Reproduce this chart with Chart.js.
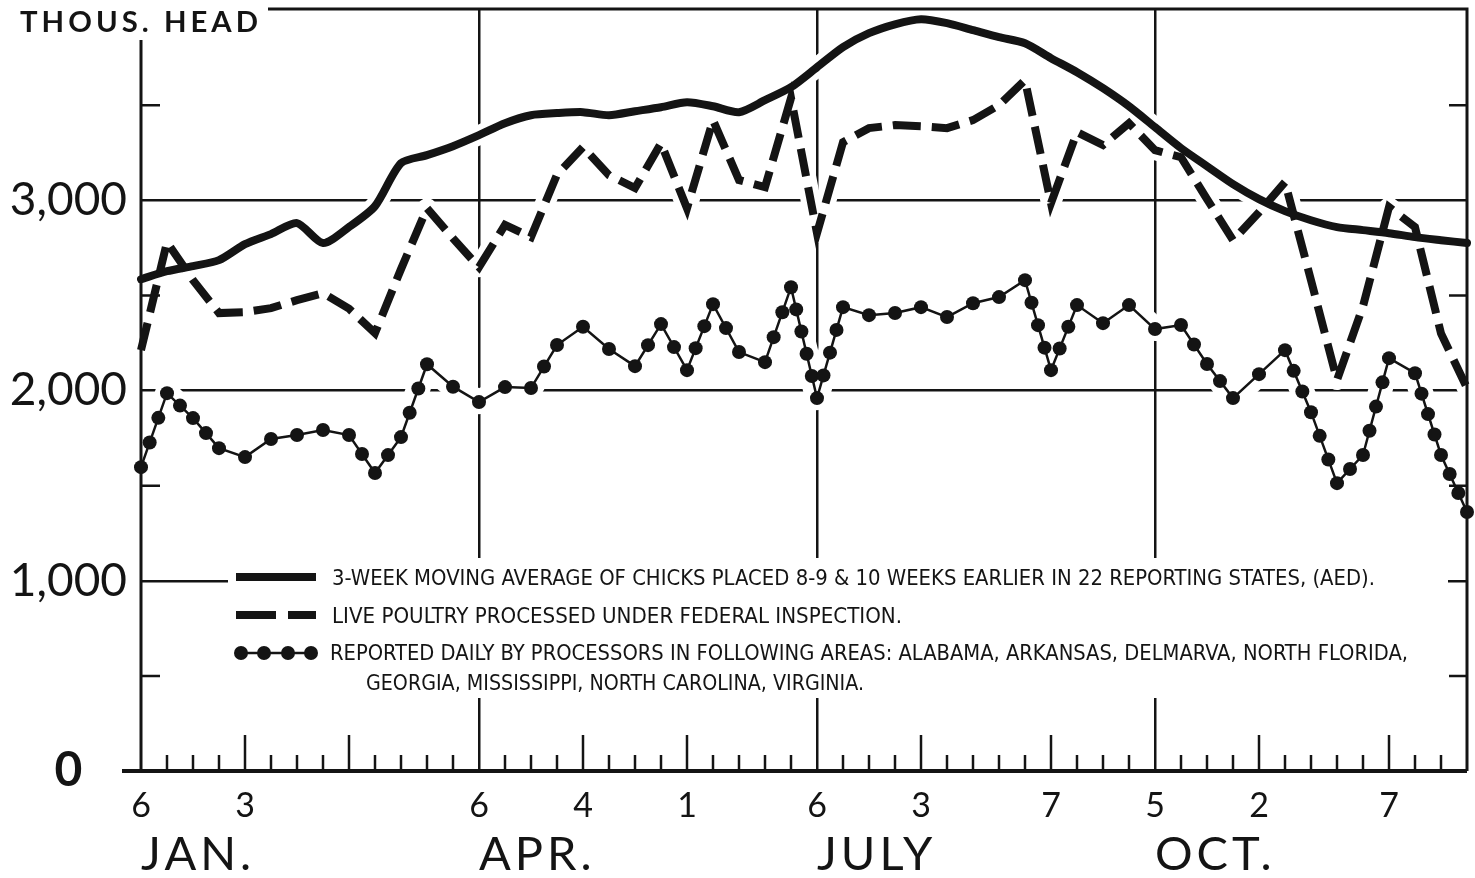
<!DOCTYPE html>
<html><head><meta charset="utf-8">
<script src="https://cdn.jsdelivr.net/npm/chart.js@4/dist/chart.umd.min.js"></script>
<style>html,body{margin:0;padding:0;background:#fff;}canvas{display:block;}</style>
</head><body>
<canvas id="c" width="1475" height="878"></canvas>
<script>
// ---------- DATA ----------
const weekDates = ['JAN 6','JAN 13','JAN 20','JAN 27','FEB 3','FEB 10','FEB 17','FEB 24',
  'MAR 2','MAR 9','MAR 16','MAR 23','MAR 30','APR 6','APR 13','APR 20','APR 27',
  'MAY 4','MAY 11','MAY 18','MAY 25','JUN 1','JUN 8','JUN 15','JUN 22','JUN 29',
  'JUL 6','JUL 13','JUL 20','JUL 27','AUG 3','AUG 10','AUG 17','AUG 24','AUG 31',
  'SEP 7','SEP 14','SEP 21','SEP 28','OCT 5','OCT 12','OCT 19','OCT 26',
  'NOV 2','NOV 9','NOV 16','NOV 23','NOV 30','DEC 7','DEC 14','DEC 21','DEC 28'];
const dayLabelWeeks = [0,4,13,17,21,26,30,35,39,43,48];
const monthStartWeeks = [4,8,17,21,30,35,43,48];
const quarterWeeks = [13,26,39];
const monthLabelWeeks = [0,13,26,39];
const monthNames = ['JAN.','APR.','JULY','OCT.'];

const chicksAvg = [2585,2627,2654,2685,2769,2822,2880,2775,2859,2969,
  3195,3237,3284,3342,3405,3447,3458,3463,3447,3468,
  3489,3515,3494,3463,3526,3594,3699,3805,3878,3925,
  3952,3931,3894,3857,3825,3747,3673,3589,3494,3384,
  3274,3179,3085,3006,2943,2895,2859,2843,2827,2806,2790,2775];
const liveProcessed = [2212,2780,2580,2407,2412,2433,2475,2512,2430,2302,
  2638,2958,2800,2648,2870,2806,3135,3279,3132,3064,
  3300,2958,3421,3106,3069,3537,2827,3305,3379,3395,
  3389,3379,3421,3500,3631,2985,3358,3290,3405,3263,
  3226,3006,2790,2937,3095,2580,2055,2443,2964,2859,2300,2013];
const reportedDaily = [1597,1986,1855,1697,1650,1745,1766,1792,1766,1566,
  1755,2138,2020,1939,2018,2013,2239,2335,2218,2128,
  2349,2107,2454,2202,2149,2543,1960,2438,2396,2407,
  2438,2386,2459,2491,2580,2107,2449,2354,2449,2323,
  2344,2139,1960,2086,2212,1886,1513,1661,2170,2091,1661,1361];

const yLabelValues = [0,1000,2000,3000];
const yGridValues = [1000,2000,3000];
const yMinorValues = [500,1500,2500,3500];
const titleText = 'THOUS. HEAD';
const legendTexts = [
  '3-WEEK MOVING AVERAGE OF CHICKS PLACED 8-9 & 10 WEEKS EARLIER IN 22 REPORTING STATES, (AED).',
  'LIVE POULTRY PROCESSED UNDER FEDERAL INSPECTION.',
  'REPORTED DAILY BY PROCESSORS IN FOLLOWING AREAS: ALABAMA, ARKANSAS, DELMARVA, NORTH FLORIDA,',
  'GEORGIA, MISSISSIPPI, NORTH CAROLINA, VIRGINIA.'
];

// ---------- STYLE ----------
const INK = '#141414';
const LABEL_FONT = 'Lato, "DejaVu Sans", sans-serif';
const NARROW_FONT = '"Liberation Sans Narrow", "DejaVu Sans Condensed", "Roboto Condensed", sans-serif';
const BEAD_R = 7, BEAD_STEP = 24;

function tracePath(ctx, pts, curved) {
  ctx.beginPath();
  pts.forEach((p, i) => {
    if (i === 0) { ctx.moveTo(p.x, p.y); return; }
    const q = pts[i - 1];
    if (curved) ctx.bezierCurveTo(q.cp2x, q.cp2y, p.cp1x, p.cp1y, p.x, p.y);
    else ctx.lineTo(p.x, p.y);
  });
}
function bead(ctx, x, y, r) { ctx.beginPath(); ctx.arc(x, y, r, 0, Math.PI * 2); ctx.fill(); }
function fitText(ctx, text, x, yBase, width, font) {
  ctx.font = font;
  const w = ctx.measureText(text).width;
  ctx.save(); ctx.translate(x, yBase); ctx.scale(width / w, 1);
  ctx.textAlign = 'left'; ctx.textBaseline = 'alphabetic';
  ctx.fillText(text, 0, 0); ctx.restore();
}
function noPad(s) { s.paddingTop = 0; s.paddingBottom = 0; s.paddingLeft = 0; s.paddingRight = 0; }

const spacingPlugin = {
  id: 'spacing',
  afterLayout(chart) {
    const s = chart.scales.x2;
    if (s && !s._spaced) {
      const orig = s.drawLabels.bind(s);
      s.drawLabels = function (area) { const c = this.ctx; c.save(); c.letterSpacing = '4px'; orig(area); c.restore(); };
      s._spaced = true;
    }
  }
};

const haloPlugin = {
  id: 'halo',
  beforeDatasetsDraw(chart) {
    const ctx = chart.ctx;
    ctx.save();
    ctx.strokeStyle = '#ffffff'; ctx.lineJoin = 'round'; ctx.lineCap = 'round';
    chart.data.datasets.forEach((ds, i) => {
      const meta = chart.getDatasetMeta(i);
      ctx.lineWidth = ds.haloWidth;
      tracePath(ctx, meta.data, ds.tension > 0);
      ctx.stroke();
    });
    ctx.restore();
  },
  afterDatasetDraw(chart, args) {
    const ds = chart.data.datasets[args.index];
    if (!ds.beads) return;
    const ctx = chart.ctx, pts = args.meta.data;
    ctx.save(); ctx.fillStyle = INK;
    pts.forEach((p, i) => {
      bead(ctx, p.x, p.y, BEAD_R);
      if (i === 0) return;
      const q = pts[i - 1];
      const n = Math.max(1, Math.round(Math.hypot(p.x - q.x, p.y - q.y) / BEAD_STEP));
      for (let k = 1; k < n; k++) bead(ctx, q.x + (p.x - q.x) * k / n, q.y + (p.y - q.y) * k / n, BEAD_R);
    });
    ctx.restore();
  }
};

const framePlugin = {
  id: 'frame',
  afterDatasetsDraw(chart) {
    const ctx = chart.ctx, a = chart.chartArea, xs = chart.scales.x, ys = chart.scales.y;
    ctx.save();
    // legend panel
    ctx.fillStyle = '#fff';
    ctx.fillRect(228, 558, 1220, 140);
    ctx.strokeStyle = INK; ctx.fillStyle = INK; ctx.lineCap = 'butt';
    // minor y ticks
    ctx.lineWidth = 2.5;
    yMinorValues.forEach(v => {
      const y = ys.getPixelForValue(v);
      ctx.beginPath(); ctx.moveTo(a.left, y); ctx.lineTo(a.left + 19, y);
      ctx.moveTo(a.right - 18, y); ctx.lineTo(a.right, y); ctx.stroke();
    });
    // weekly ticks
    weekDates.forEach((d, i) => {
      if (i === 0 || i === weekDates.length - 1 || quarterWeeks.includes(i)) return;
      const x = xs.getPixelForValue(i);
      const h = monthStartWeeks.includes(i) ? 36 : 16;
      ctx.lineWidth = 2.5;
      ctx.beginPath(); ctx.moveTo(x, a.bottom); ctx.lineTo(x, a.bottom - h); ctx.stroke();
    });
    // frame lines
    ctx.lineWidth = 3;
    ctx.beginPath(); ctx.moveTo(a.left, 40); ctx.lineTo(a.left, a.bottom); ctx.stroke();
    ctx.beginPath(); ctx.moveTo(268, a.top - 1); ctx.lineTo(a.right, a.top - 1); ctx.lineTo(a.right, a.bottom); ctx.stroke();
    ctx.lineWidth = 4;
    ctx.beginPath(); ctx.moveTo(122, a.bottom); ctx.lineTo(a.right, a.bottom); ctx.stroke();
    // title
    ctx.font = 'bold 29px ' + LABEL_FONT;
    ctx.letterSpacing = '4px';
    const tw = ctx.measureText(titleText).width;
    ctx.save(); ctx.translate(20, 32); ctx.scale(242 / tw, 1); ctx.fillText(titleText, 0, 0); ctx.restore();
    ctx.letterSpacing = '0px';
    // legend samples
    ctx.lineWidth = 8;
    ctx.beginPath(); ctx.moveTo(236, 577); ctx.lineTo(316, 577); ctx.stroke();
    ctx.beginPath(); ctx.moveTo(236, 615); ctx.lineTo(276, 615); ctx.moveTo(288, 615); ctx.lineTo(316, 615); ctx.stroke();
    ctx.lineWidth = 2.5;
    ctx.beginPath(); ctx.moveTo(241, 653); ctx.lineTo(311, 653); ctx.stroke();
    [241, 264, 288, 311].forEach(x => bead(ctx, x, 653, 7));
    // legend texts
    const lf = '22px ' + NARROW_FONT;
    fitText(ctx, legendTexts[0], 332, 585, 1043, lf);
    fitText(ctx, legendTexts[1], 332, 623, 570, lf);
    fitText(ctx, legendTexts[2], 330, 660, 1078, lf);
    fitText(ctx, legendTexts[3], 366, 690, 498, lf);
    ctx.restore();
  }
};

new Chart(document.getElementById('c'), {
  type: 'line',
  data: {
    labels: weekDates,
    datasets: [
      { label: legendTexts[0], data: chicksAvg, borderColor: INK, borderWidth: 8, tension: 0.25,
        pointRadius: 0, borderCapStyle: 'round', borderJoinStyle: 'round', haloWidth: 20 },
      { label: legendTexts[1], data: liveProcessed, borderColor: INK, borderWidth: 8, tension: 0,
        borderDash: [28, 11], pointRadius: 0, borderCapStyle: 'butt', borderJoinStyle: 'miter', haloWidth: 20 },
      { label: legendTexts[2], data: reportedDaily, borderColor: INK, borderWidth: 2.5, tension: 0,
        pointRadius: 0, beads: true, haloWidth: 24 }
    ]
  },
  options: {
    responsive: false, animation: false, devicePixelRatio: 1,
    layout: { padding: { top: 10, right: 8, left: 0, bottom: 0 } },
    plugins: { legend: { display: false }, tooltip: { enabled: false } },
    scales: {
      x: {
        type: 'category', position: 'bottom', weight: 0, offset: false,
        grid: { drawTicks: false, lineWidth: 2.5,
          color: c => quarterWeeks.includes(c.index) ? INK : 'rgba(0,0,0,0)' },
        border: { display: false },
        ticks: { autoSkip: false, maxRotation: 0, padding: 15, color: INK,
          font: { family: LABEL_FONT, size: 34 },
          callback: (v, i) => dayLabelWeeks.includes(i) ? weekDates[i].split(' ')[1] : '' },
        afterFit: s => { s.height = 50; noPad(s); }
      },
      x2: {
        type: 'category', position: 'bottom', weight: 1, offset: false,
        grid: { display: false, drawTicks: false }, border: { display: false },
        ticks: { autoSkip: false, maxRotation: 0, align: 'start', padding: 6, color: INK,
          font: { family: LABEL_FONT, size: 47 },
          callback: (v, i) => { const k = monthLabelWeeks.indexOf(i); return k >= 0 ? monthNames[k] : ''; } },
        afterFit: s => { s.height = 57; noPad(s); }
      },
      y: {
        min: 0, max: 4000,
        grid: { drawTicks: false, lineWidth: 2.5,
          color: c => yGridValues.includes(c.tick.value) ? INK : 'rgba(0,0,0,0)' },
        border: { display: false },
        ticks: { stepSize: 500, crossAlign: 'center', padding: 14, color: INK,
          font: c => (c.tick && c.tick.value === 0)
            ? { family: LABEL_FONT, size: 48, weight: 'bold' }
            : { family: LABEL_FONT, size: 46, weight: 'normal' },
          callback: v => yLabelValues.includes(v) ? (v === 0 ? '0' : v.toLocaleString('en-US')) : '' },
        afterFit: s => { s.width = 141; noPad(s); }
      }
    }
  },
  plugins: [spacingPlugin, haloPlugin, framePlugin]
});
</script>
</body></html>
